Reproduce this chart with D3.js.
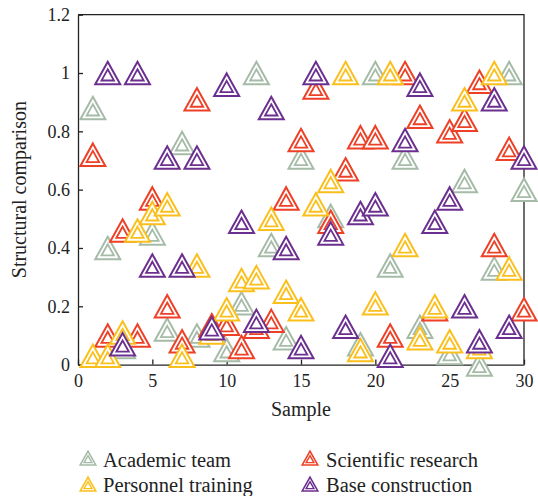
<!DOCTYPE html>
<html>
<head>
<meta charset="utf-8">
<script src="https://cdn.jsdelivr.net/npm/d3@7/dist/d3.min.js"></script>
<style>
  body { margin: 0; background: #fff; }
  svg { display: block; }
  text { font-family: "Liberation Serif", "DejaVu Serif", serif; fill: #222; }
</style>
</head>
<body>
<svg id="chart" width="538" height="496"></svg>
<script>
// Sample index on the x axis
const samples = [1, 2, 3, 4, 5, 6, 7, 8, 9, 10, 11, 12, 13, 14, 15,
                 16, 17, 18, 19, 20, 21, 22, 23, 24, 25, 26, 27, 28, 29, 30];

// Structural comparison per sample (null = no visible point)
const academicTeam = [0.88, 0.40, 0.06, null, 0.45, 0.12, 0.76, 0.10, null, 0.05,
                      0.21, 1.00, 0.41, 0.09, 0.71, null, 0.51, null, 0.07, 1.00,
                      0.34, 0.71, 0.13, null, 0.04, 0.63, 0.00, 0.33, 1.00, 0.60];
const scientificResearch = [0.72, 0.10, 0.46, 0.10, 0.57, 0.20, 0.08, 0.91, 0.135, 0.14,
                            0.06, 0.13, 0.15, 0.57, 0.77, 0.95, 0.49, 0.67, 0.78, 0.78,
                            0.10, 1.00, 0.85, 0.19, 0.80, 0.84, 0.97, 0.41, 0.74, 0.19];
const personnelTraining = [0.03, 0.03, 0.11, 0.46, 0.52, 0.55, 0.03, 0.34, 0.11, 0.19,
                           0.29, 0.30, 0.50, 0.25, 0.19, 0.55, 0.63, 1.00, 0.05, 0.21,
                           1.00, 0.41, 0.09, 0.20, 0.08, 0.91, 0.06, 1.00, 0.33, null];
const baseConstruction = [null, 1.00, 0.07, 1.00, 0.34, 0.71, 0.34, 0.71, 0.125, 0.96,
                          0.49, 0.15, 0.88, 0.40, 0.06, 1.00, 0.45, 0.13, 0.52, 0.55,
                          0.03, 0.77, 0.96, 0.49, 0.57, 0.20, 0.08, 0.91, 0.13, 0.71];

const seriesNames = ["Academic team", "Scientific research", "Personnel training", "Base construction"];
const seriesColors = ["#a5bba7", "#ee4026", "#fbbf1c", "#6b2f8f"];
const seriesValues = [academicTeam, scientificResearch, personnelTraining, baseConstruction];

const xTicks = [0, 5, 10, 15, 20, 25, 30];
const yTicks = [0, 0.2, 0.4, 0.6, 0.8, 1, 1.2];

const svg = d3.select("#chart");
const plot = { left: 78, right: 524, top: 14.7, bottom: 364.6 };

const x = d3.scaleLinear().domain([0, 30]).range([plot.left, plot.right]);
const y = d3.scaleLinear().domain([0, 1.2]).range([plot.bottom, plot.top]);

// Frame (top and right edges)
svg.append("path")
  .attr("d", `M${plot.left},${plot.top}H${plot.right}V${plot.bottom}`)
  .attr("fill", "none").attr("stroke", "#222").attr("stroke-width", 1.3);

// Axes with inward ticks
const xAxis = svg.append("g")
  .attr("transform", `translate(0,${plot.bottom})`)
  .call(d3.axisBottom(x).tickValues(xTicks).tickSizeInner(-5).tickSizeOuter(0).tickPadding(10)
    .tickFormat(d3.format("d")));
const yAxis = svg.append("g")
  .attr("transform", `translate(${plot.left},0)`)
  .call(d3.axisLeft(y).tickValues(yTicks).tickSizeInner(-5).tickSizeOuter(0).tickPadding(8)
    .tickFormat(d => d === 0 || d === 1 ? String(d) : d3.format(".1f")(d)));
[xAxis, yAxis].forEach(g => {
  g.select(".domain").attr("stroke", "#222").attr("stroke-width", 1.3);
  g.selectAll(".tick line").attr("stroke", "#222").attr("stroke-width", 1.3);
  g.selectAll(".tick text").style("font-size", "18px").attr("fill", "#222")
    .style("font-family", '"Liberation Serif", serif');
});

// Axis titles
svg.append("text")
  .attr("x", (plot.left + plot.right) / 2).attr("y", 416)
  .attr("text-anchor", "middle").style("font-size", "20px").text("Sample");
svg.append("text")
  .attr("transform", `translate(26,${(plot.top + plot.bottom) / 2}) rotate(-90)`)
  .attr("text-anchor", "middle").style("font-size", "20px").text("Structural comparison");

// Double-outlined triangle marker
function outerTri(s) {
  const w = 25 * s, h = 22.5 * s;
  return `M0,${-h / 2}L${w / 2},${h / 2}L${-w / 2},${h / 2}Z`;
}
function innerTri(s) {
  const w = 25 * s, h = 22.5 * s, k = 0.5, c = h / 6;
  const top = c + k * (-h / 2 - c), bot = c + k * (h / 2 - c);
  return `M0,${top}L${k * w / 2},${bot}L${-k * w / 2},${bot}Z`;
}
function drawMarker(g, color, s) {
  g.append("path").attr("d", outerTri(s))
    .attr("fill", "#fff").attr("stroke", color).attr("stroke-width", 2 * Math.max(s, 0.8));
  g.append("path").attr("d", innerTri(s))
    .attr("fill", "#fff").attr("stroke", color).attr("stroke-width", 1.8 * Math.max(s, 0.8));
}

// Scatter points, one layer per series
seriesValues.forEach((vals, i) => {
  const pts = samples.map((s, j) => ({ s, v: vals[j] })).filter(d => d.v !== null);
  const layer = svg.append("g");
  layer.selectAll("g").data(pts).join("g")
    .attr("transform", d => `translate(${x(d.s)},${y(d.v)})`)
    .each(function () { drawMarker(d3.select(this), seriesColors[i], 1); });
});

// Legend (two columns)
const legendPos = [
  { mx: 88, my: 458, tx: 103, ty: 467 },
  { mx: 310, my: 458, tx: 326, ty: 467 },
  { mx: 88, my: 484, tx: 103, ty: 492 },
  { mx: 310, my: 484, tx: 326, ty: 492 }
];
seriesNames.forEach((name, i) => {
  const p = legendPos[i];
  const g = svg.append("g").attr("transform", `translate(${p.mx},${p.my})`);
  drawMarker(g, seriesColors[i], 0.62);
  svg.append("text").attr("x", p.tx).attr("y", p.ty)
    .style("font-size", "20.5px").text(name);
});
</script>
</body>
</html>
